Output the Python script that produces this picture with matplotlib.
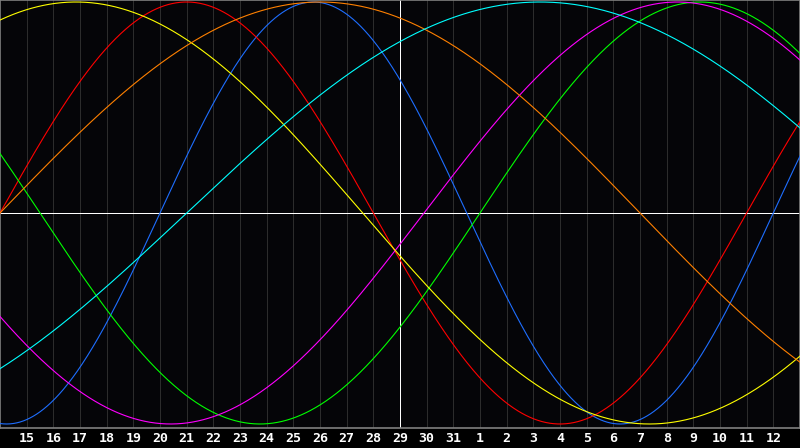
import numpy as np
import matplotlib
matplotlib.use('Agg')
from matplotlib import pyplot as plt

# Biorhythm cycles: period in days, days into the cycle at the left edge, colour
periods = [23, 28, 33, 38, 43, 48, 53]
start_phase = [17, 0, 15, 22.1, 7.9, 0, 46]
colors = ['#1e6eff', '#ff0000', '#00ff00', '#ff00ff', '#ffff00', '#ff8000', '#00ffff']

# day labels along the bottom (left edge = 14th, right edge = 13th)
day_labels = list(range(15, 32)) + list(range(1, 13))
n_days = 30
today = 15

fig = plt.figure(figsize=(8, 4.48), dpi=100, facecolor='#000000')
ax = fig.add_axes([0, 20/448, 1, 428/448])
ax.set_facecolor('#050508')

t = np.linspace(0, n_days, 1200)
for p, ph, c in zip(periods, start_phase, colors):
    ax.plot(t, np.sin(2*np.pi*(t + ph)/p), color=c, lw=0.8, zorder=3)

# day grid
for d in range(1, n_days):
    ax.axvline(d, color='#2c2c2c', lw=0.5, zorder=1, antialiased=False)
ax.axhline(0, color='white', lw=0.5, zorder=2, antialiased=False)
ax.axvline(today, color='white', lw=0.5, zorder=2, antialiased=False)

ax.set_xlim(0, n_days)
ax.set_ylim(-1.019, 1.0095)
ax.set_yticks([])
ax.set_xticks([])
for s in ax.spines.values():
    s.set_color('#808080')
    s.set_linewidth(1.2)

for i, lab in enumerate(day_labels):
    ax.text(i + 1, -1.07, str(lab), color='white', fontsize=9.5, fontweight='bold',
            family='DejaVu Sans Mono', ha='center', va='center', clip_on=False)

fig.savefig('out.png', dpi=100, facecolor=fig.get_facecolor())
